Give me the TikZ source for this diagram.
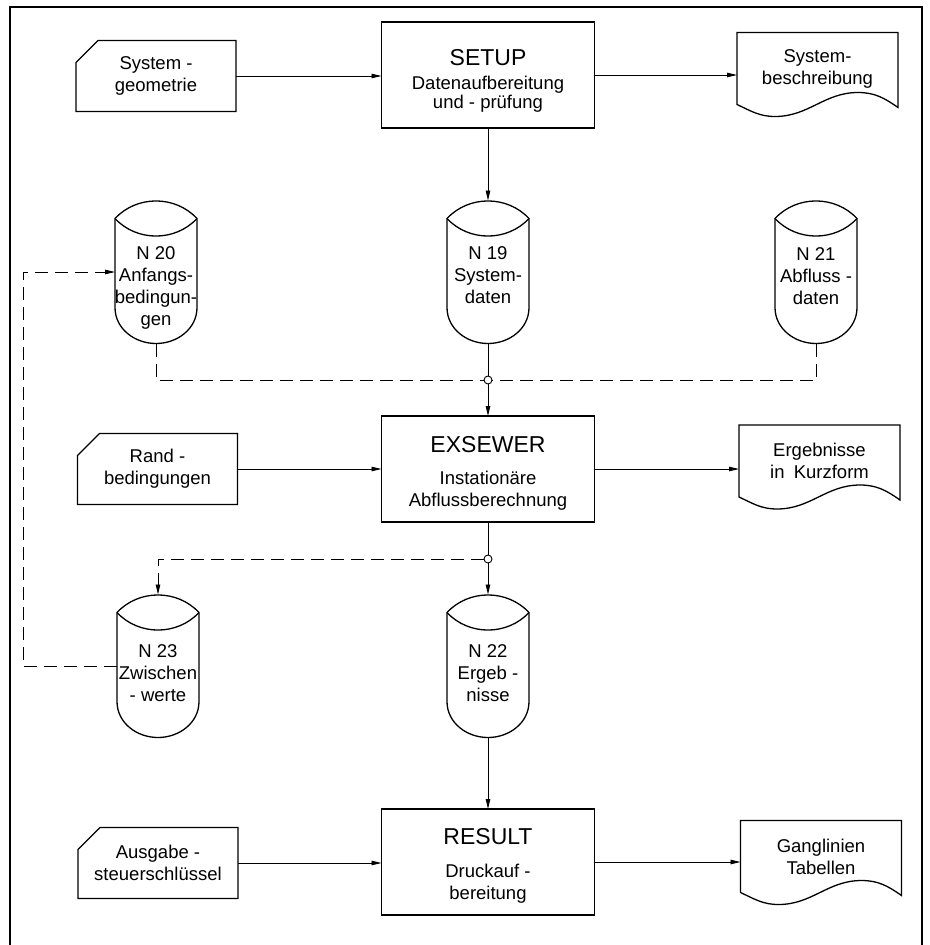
\documentclass[tikz,border=0pt]{standalone}
\usepackage{fontspec}
\setmainfont{Liberation Sans}
\usetikzlibrary{arrows.meta,calc}
\newcommand\myBody{\fontsize{18.5}{22}\selectfont}
\newcommand\myTitle{\fontsize{23}{28}\selectfont}
\newcommand\mycard[1]{%
  \draw[outline] ([yshift=-22pt]#1.north west) -- ([xshift=22pt]#1.north west) -- (#1.north east) -- (#1.south east) -- (#1.south west) -- cycle;}
\newcommand\mydoc[1]{%
  \draw[outline] (#1.south west) -- (#1.north west) -- (#1.north east) -- ([yshift=-3pt]#1.south east)
    to[out=145,in=0] ($(#1.south east)+(-40pt,12pt)$)
    to[out=180,in=0] ($(#1.south west)+(38pt,-12pt)$)
    to[out=180,in=-25] (#1.south west) -- cycle;}
\newcommand\mydrum[1]{%
  \draw[outline] ([yshift=-18pt]#1.north west) to[bend left=47] ([yshift=-18pt]#1.north east)
    -- ([yshift=-107pt]#1.north east) to[out=-90,in=0] (#1.south)
    to[out=180,in=-90] ([yshift=-107pt]#1.north west) -- cycle;
  \draw[outline] ([yshift=-18pt]#1.north west) to[bend right=47] ([yshift=-18pt]#1.north east);}
\begin{document}
\begin{tikzpicture}[x=1pt,y=-1pt,
  outline/.style={line width=1.3pt, line join=miter},
  conn/.style={line width=0.9pt},
  tip/.style={-{Triangle[length=10pt,width=4.5pt]}},
  arr/.style={conn,tip},
  dashline/.style={conn,dash pattern=on 13pt off 7pt},
  holder/.style={draw=none, inner sep=0pt, outer sep=0pt, align=center, font=\myBody},
  card/.style={holder, minimum width=160pt, minimum height=71pt},
  docu/.style={holder, minimum width=161pt, minimum height=72pt},
  proc/.style={holder, draw, outline, minimum width=213pt, minimum height=106pt},
  ptitle/.style={holder, anchor=north, font=\myTitle},
  psub/.style={holder, anchor=north},
  cyl/.style={holder, minimum width=82pt, minimum height=143pt},
  cyltext/.style={holder, anchor=north},
  junc/.style={circle, draw, conn, fill=white, inner sep=0pt, minimum size=8pt, outer sep=0pt}
]
\useasboundingbox (0,0) rectangle (929,945);
\fill[white] (0,0) rectangle (929,945);
% frame
\draw[outline] (10,945) -- (10,7) -- (922,7) -- (922,945);

% top row
\node[card] (sg) at (156,76) {System -\\geometrie};
\mycard{sg}
\node[proc] (setup) at (488,75) {};
\node[ptitle] (setupT) at ([yshift=-27pt]setup.north) {SETUP};
\node[psub, font={\fontsize{18.5}{19}\selectfont}] (setupS) at ([yshift=-54pt]setup.north) {Datenaufbereitung\\und - prüfung};
\node[docu] (sb) at (817.5,68.5) {System-\\beschreibung};
\mydoc{sb}

% storage row 1
\node[cyl] (n20) at (156,272) {};
\mydrum{n20}
\node[cyltext] (n20t) at ([yshift=-46pt]n20.north) {N 20\\Anfangs-\\bedingun-\\gen};
\node[cyl] (n19) at (488,272) {};
\mydrum{n19}
\node[cyltext] (n19t) at ([yshift=-46pt]n19.north) {N 19\\System-\\daten};
\node[cyl] (n21) at (816,272) {};
\mydrum{n21}
\node[cyltext] (n21t) at ([yshift=-47pt]n21.north) {N 21\\Abfluss -\\daten};

\node[junc] (j1) at (488,380) {};

% middle row
\node[card] (rand) at (157.5,469) {Rand -\\bedingungen};
\mycard{rand}
\node[proc] (exs) at (488,469) {};
\node[ptitle] (exsT) at ([yshift=-20pt]exs.north) {EXSEWER};
\node[psub] (exsS) at ([yshift=-55pt]exs.north) {Instationäre\\Abflussberechnung};
\node[docu] (erg) at (819.5,461) {Ergebnisse\\in\enspace Kurzform};
\mydoc{erg}

\node[junc] (j2) at (488,559) {};

% storage row 2
\node[cyl] (n23) at (158,666) {};
\mydrum{n23}
\node[cyltext] (n23t) at ([yshift=-50pt]n23.north) {N 23\\Zwischen\\- werte};
\node[cyl] (n22) at (488,666) {};
\mydrum{n22}
\node[cyltext] (n22t) at ([yshift=-50pt]n22.north) {N 22\\Ergeb -\\nisse};

% bottom row
\node[card] (aus) at (158,863) {Ausgabe -\\steuerschlüssel};
\mycard{aus}
\node[proc] (res) at (488,862) {};
\node[ptitle] (resT) at ([yshift=-19pt]res.north) {RESULT};
\node[psub] (resS) at ([yshift=-55pt]res.north) {Druckauf -\\bereitung};
\node[docu] (gang) at (821,856.5) {Ganglinien\\Tabellen};
\mydoc{gang}

\coordinate (fb) at (23,0);

% connectors
\draw[arr] (sg.east) -- (sg.east -| setup.west);
\draw[arr] (setup.east) -- (setup.east -| sb.west);
\draw[arr] (setup.south) -- (n19.north);
\draw[conn] (n19.south) -- (j1.north);
\draw[arr] (j1.south) -- (exs.north);
\draw[dashline] (n20.south) |- (j1.west);
\draw[dashline] (n21.south) |- (j1.east);
\draw[arr] (rand.east) -- (rand.east -| exs.west);
\draw[arr] (exs.east) -- (exs.east -| erg.west);
\draw[conn] (exs.south) -- (j2.north);
\draw[arr] (j2.south) -- (n22.north);
\draw[dashline,tip] (j2.west) -| (n23.north);
\draw[dashline,tip] (n23.west) -- (n23.west -| fb) -- (n20.west -| fb) -- (n20.west);
\draw[arr] (n22.south) -- (res.north);
\draw[arr] (aus.east) -- (aus.east -| res.west);
\draw[arr] (res.east) -- (res.east -| gang.west);
\end{tikzpicture}
\end{document}
